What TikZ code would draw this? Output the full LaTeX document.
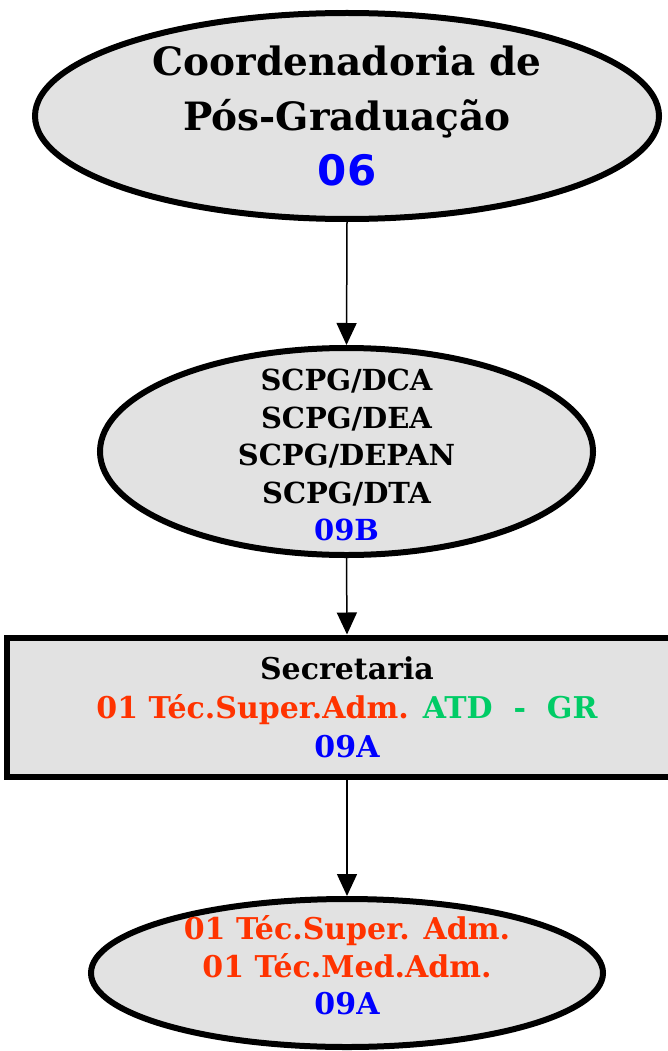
\documentclass[tikz,border=0pt]{standalone}
\usepackage{fontspec}
\setmainfont{DejaVu Serif}
\newfontfamily\codefont{DejaVu Sans}
\usetikzlibrary{arrows.meta,shapes.geometric}

\definecolor{granite}{RGB}{226,226,226}
\definecolor{admred}{RGB}{255,51,0}
\definecolor{atdgreen}{RGB}{0,204,102}
\definecolor{codeblue}{RGB}{0,0,255}

\begin{document}
\begin{tikzpicture}[x=1pt, y=-1pt,
  unit/.style={draw=black, line width=6pt, fill=granite, inner sep=0pt, align=center},
  oval/.style={unit, ellipse},
  box/.style={unit, rectangle},
  link/.style={line width=1.5pt, -{Triangle[length=22pt,width=20pt]}}]

\useasboundingbox (0,0) rectangle (668,1051);

% units
\node[oval, minimum width=624pt, minimum height=206pt,
      font=\bfseries\fontsize{39}{55}\selectfont] (coord) at (347,116)
  {Coordenadoria de\\ Pós-Graduação\\
   {\codefont\fontsize{42}{55}\selectfont\color{codeblue}06}};

\node[oval, minimum width=493pt, minimum height=207pt, inner ysep=-40pt,
      font=\bfseries\fontsize{29}{37.5}\selectfont] (scpg) at (346.5,451.5)
  {\rule{0pt}{29pt}SCPG/DCA\\ SCPG/DEA\\ SCPG/DEPAN\\ SCPG/DTA\\
   \color{codeblue}09B};

\node[box, minimum width=680pt, minimum height=139pt,
      font=\bfseries\fontsize{30}{39}\selectfont] (secr) at (347,707)
  {Secretaria\\
   {\color{admred}01 Téc.Super.Adm.} {\color{atdgreen}ATD \ - \ GR}\\
   \color{codeblue}09A};

\node[oval, minimum width=512pt, minimum height=148pt, inner ysep=-20pt,
      font=\bfseries\fontsize{30}{37.5}\selectfont] (tec) at (347,973)
  {\color{admred}01 Téc.Super. Adm.\\
   \color{admred}01 Téc.Med.Adm.\\
   \color{codeblue}09A\rule[-16pt]{0pt}{0pt}};

% connectors
\draw[link] (coord.south) -- (scpg.north);
\draw[link] (scpg.south) -- (secr.north);
\draw[link] (secr.south) -- (tec.north);

\end{tikzpicture}
\end{document}
